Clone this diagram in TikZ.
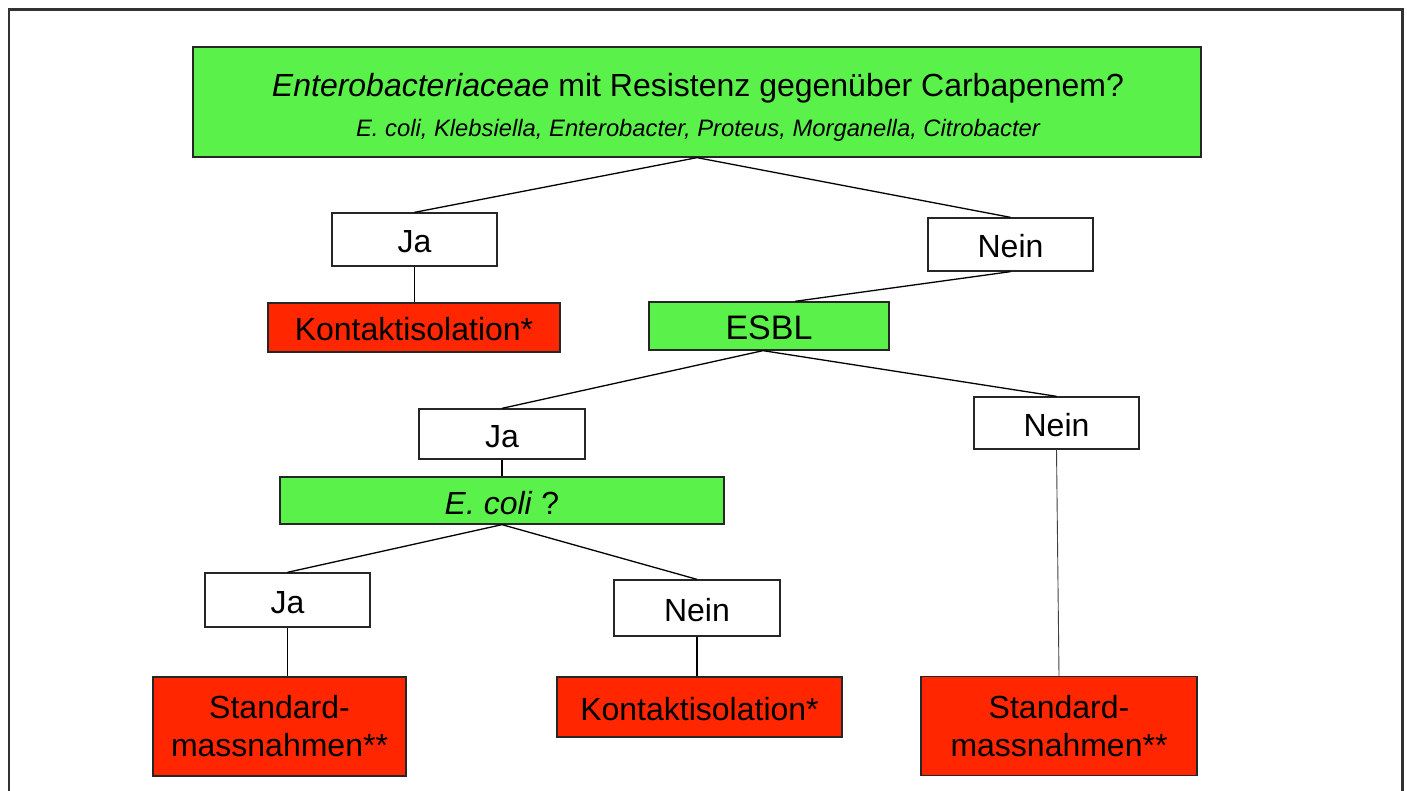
\documentclass[tikz,border=0pt]{standalone}
\usepackage{fontspec}
\setmainfont{Liberation Sans}
\definecolor{boxgreen}{RGB}{90,242,74}
\definecolor{boxred}{RGB}{255,38,0}
\definecolor{framegray}{RGB}{50,50,50}
\begin{document}
\begin{tikzpicture}[x=1pt,y=-1pt,
  box/.style={draw=black!85, line width=1.3pt, inner sep=0pt, anchor=center,
    font=\fontsize{32}{38}\selectfont},
  oneline/.style={text height=27pt, text depth=0pt},
  greenbox/.style={box, oneline, fill=boxgreen},
  whitebox/.style={box, oneline, fill=white},
  redbox/.style={box, oneline, fill=boxred},
  redtwo/.style={box, fill=boxred, align=center},
  conn/.style={line width=1.3pt, black},
  thinconn/.style={line width=0.9pt, black!75}
]
\useasboundingbox (0,0) rectangle (1407,791);
\fill[white] (0,0) rectangle (1407,791);
% outer frame
\draw[framegray, line width=2.4pt] (8.7,791) -- (8.7,9.5) -- (1402.5,9.5) -- (1402.5,791);

% top question box
\node[box, fill=boxgreen, minimum width=1008pt, minimum height=110pt] (top) at (697,102) {};
\node[anchor=base, inner sep=0pt, font=\fontsize{32}{38}\selectfont] (toptext) at (698,97)
  {\textit{Enterobacteriaceae} mit Resistenz gegenüber Carbapenem?};
\node[anchor=base, inner sep=0pt, font=\fontsize{23.8}{28}\selectfont\itshape] (topsub) at (698,137)
  {E. coli, Klebsiella, Enterobacter, Proteus, Morganella, Citrobacter};

% level 1
\node[whitebox, minimum width=165pt, minimum height=53pt] (ja1) at (414.5,239.5) {Ja};
\node[whitebox, minimum width=165pt, minimum height=53pt] (nein1) at (1010.5,244.5) {Nein};
\node[redbox, minimum width=292pt, minimum height=49pt] (k1) at (414,327.5) {Kontaktisolation*};
\node[greenbox, minimum width=240pt, minimum height=48pt, font=\fontsize{34}{40}\selectfont] (esbl) at (769,326) {ESBL};

% level 2
\node[whitebox, minimum width=166pt, minimum height=50pt] (ja2) at (502,434) {Ja};
\node[whitebox, minimum width=165pt, minimum height=52pt] (nein2) at (1056.5,423) {Nein};
\node[greenbox, minimum width=444pt, minimum height=47pt] (ecoli) at (502,500.5) {\textit{E. coli} ?};

% level 3
\node[whitebox, minimum width=165pt, minimum height=54pt] (ja3) at (287.5,600) {Ja};
\node[whitebox, minimum width=166pt, minimum height=56pt] (nein3) at (697,608) {Nein};
\node[redtwo, minimum width=253pt, minimum height=99pt] (s1) at (279.5,726.5) {Standard-\\massnahmen**};
\node[redbox, minimum width=285pt, minimum height=60pt] (k2) at (699.5,707) {Kontaktisolation*};
\node[redtwo, minimum width=276pt, minimum height=99pt] (s2) at (1059,726) {Standard-\\massnahmen**};

% connectors
\draw[conn] (ja1.north) -- (top.south) -- (nein1.north);
\draw[conn] (ja1.south) -- (ja1.south |- k1.north);
\draw[conn] (nein1.south) -- ([xshift=26pt]esbl.north);
\draw[conn] (ja2.north) -- ([xshift=-6pt]esbl.south) -- (nein2.north);
\draw[conn] (ja2.south) -- (ja2.south |- ecoli.north);
\draw[conn] (ja3.north) -- (ecoli.south) -- (nein3.north);
\draw[conn] (ja3.south) -- (ja3.south |- s1.north);
\draw[conn] (nein3.south) -- (nein3.south |- k2.north);
\draw[thinconn] (nein2.south) -- (s2.north);
\end{tikzpicture}
\end{document}
